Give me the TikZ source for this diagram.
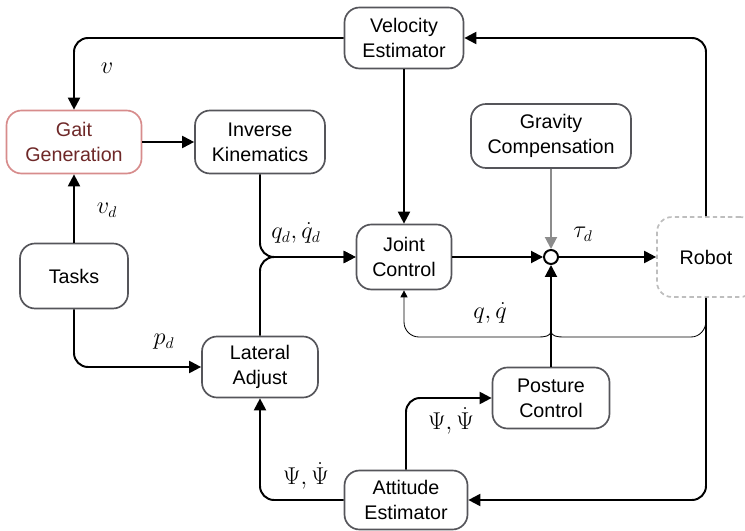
\documentclass[tikz,border=0pt]{standalone}
\usepackage{fontspec}
\setmainfont{Liberation Sans}
\usetikzlibrary{arrows.meta}
\newlength\pxu
\setlength\pxu{0.025cm}
\definecolor{boxgray}{RGB}{85,85,90}
\definecolor{gaitred}{RGB}{215,140,140}
\definecolor{gaittext}{RGB}{110,40,40}
\definecolor{robgray}{RGB}{190,190,190}
\definecolor{gravgray}{RGB}{140,140,140}

\begin{document}
\begin{tikzpicture}[x=0.025cm, y=-0.025cm,
    font=\fontsize{14}{17.8}\selectfont,
    block/.style={draw=boxgray, line width=1.2pt, rounded corners=0.375cm, align=center, minimum height=61\pxu, inner sep=2pt},
    conn/.style={line width=1.4pt, rounded corners=0.35cm, -{Triangle[length=0.3cm,width=0.3cm]}},
    lbl/.style={inner sep=1pt, font=\fontsize{16}{18}\selectfont}]
\useasboundingbox (0,0) rectangle (745,531);

% blocks
\node[block, minimum width=119\pxu] (vel) at (404,38) {Velocity\\Estimator};
\node[block, draw=gaitred, text=gaittext, minimum width=135\pxu, minimum height=63\pxu] (gait) at (74,142) {Gait\\Generation};
\node[block, minimum width=130\pxu, minimum height=63\pxu] (ik) at (260,142) {Inverse\\Kinematics};
\node[block, minimum width=160\pxu, minimum height=64\pxu] (grav) at (551,136) {Gravity\\Compensation};
\node[block, minimum width=95\pxu, minimum height=65\pxu] (joint) at (404,257) {Joint\\Control};
\node[block, minimum width=108\pxu, minimum height=65\pxu] (tasks) at (74,276) {Tasks};
\node[block, minimum width=116\pxu] (lat) at (260,367) {Lateral\\Adjust};
\node[block, minimum width=117\pxu] (post) at (551,398) {Posture\\Control};
\node[block, minimum width=123\pxu, minimum height=59\pxu] (att) at (406,500) {Attitude\\Estimator};
\node[block, draw=robgray, dash pattern=on 1.1mm off 0.8mm, minimum width=98\pxu, minimum height=80\pxu] (robot) at (706,257) {Robot};
\node[circle, draw, line width=1.4pt, fill=white, minimum size=14\pxu, inner sep=0pt] (sum) at (551,257) {};

% connectors
\draw[conn] (vel.west) -| (gait.north);
\draw[conn] (robot.north) |- (vel.east);
\draw[conn] (vel.south) -- (joint.north);
\draw[conn] (gait) -- (ik);
\draw[conn] (tasks) -- (gait);
\draw[conn] (tasks.south) |- (lat.west);
\draw[conn] (ik.south) |- (joint.west);
\draw[conn] (lat.north) |- (joint.west);
\draw[conn] (joint) -- (sum);
\draw[conn, draw=gravgray, fill=gravgray] (grav) -- (sum);
\draw[conn] (post) -- (sum);
\draw[conn] (sum) -- (robot);
\draw[conn] (robot.south) |- (att.east);
\draw[conn] (att.west) -| (lat.south);
\draw[conn] (att.north) |- (post.west);

% joint state feedback
\coordinate (fb) at (706,321);
\draw[line width=0.6pt, -{Triangle[length=0.175cm,width=0.175cm]}] (fb) to[out=-90,in=0] (691,337) -- (563,337)
    to[out=180,in=-90] (551,331) to[out=-90,in=0] (539,337) -- (419,337) to[out=180,in=-90] (404,322) -- (joint.south);

% labels
\node[lbl] (lv) at (107,68) {$v$};
\node[lbl] (lvd) at (107,210) {$v_d$};
\node[lbl] (lpd) at (164,342) {$p_d$};
\node[lbl] (lqd) at (296,233) {$q_d,\dot q_d$};
\node[lbl] (ltau) at (583,234) {$\tau_d$};
\node[lbl] (lq) at (490,313) {$q,\dot q$};
\node[lbl] (lpsia) at (306,476) {$\Psi,\dot\Psi$};
\node[lbl] (lpsib) at (451,421) {$\Psi,\dot\Psi$};
\end{tikzpicture}
\end{document}
